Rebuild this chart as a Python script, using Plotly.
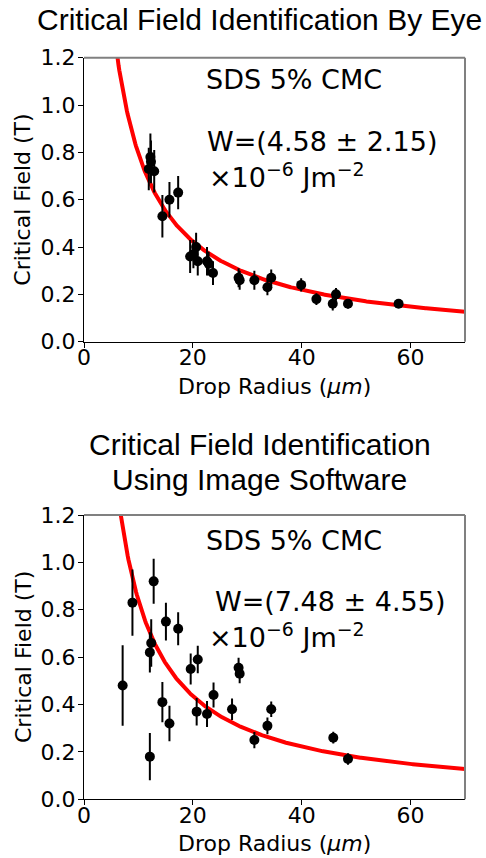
import numpy as np
import plotly.graph_objects as go

# ---- measured critical fields: identification by eye ----
radius_eye = [11.9, 12.2, 12.3, 12.9, 14.4, 15.7, 17.3, 19.5, 20.1, 20.6, 20.9,
              22.6, 22.9, 23.7, 28.4, 28.6, 31.3, 33.7, 34.4, 39.9, 42.7, 45.7,
              46.3, 48.5, 57.8]
field_eye = [0.73, 0.78, 0.76, 0.72, 0.53, 0.60, 0.63, 0.36, 0.37, 0.40, 0.34,
             0.34, 0.33, 0.29, 0.27, 0.26, 0.26, 0.23, 0.27, 0.24, 0.18, 0.16,
             0.20, 0.16, 0.16]
err_eye = [0.09, 0.10, 0.09, 0.09, 0.09, 0.075, 0.07, 0.07, 0.06, 0.06, 0.06,
           0.06, 0.05, 0.05, 0.04, 0.04, 0.04, 0.034, 0.035, 0.028, 0.025, 0.028,
           0.027, 0.02, 0.017]

# ---- measured critical fields: image software ----
radius_sw = [7.1, 8.9, 12.1, 12.1, 12.35, 12.8, 14.4, 15.05, 15.7, 17.3, 19.6,
             20.7, 20.9, 22.6, 23.8, 27.2, 28.4, 28.6, 31.3, 33.7, 34.4, 45.8, 48.5]
field_sw = [0.48, 0.83, 0.18, 0.62, 0.66, 0.92, 0.41, 0.75, 0.32, 0.72, 0.55,
            0.37, 0.59, 0.36, 0.44, 0.38, 0.555, 0.53, 0.25, 0.31, 0.38, 0.26, 0.17]
err_sw = [0.17, 0.14, 0.10, 0.085, 0.10, 0.095, 0.085, 0.08, 0.075, 0.07, 0.065,
          0.058, 0.058, 0.055, 0.053, 0.045, 0.042, 0.04, 0.034, 0.035, 0.033,
          0.025, 0.024]

# fit model B = K / (r + r0)
fit_eye = (9.07, 1.42)
fit_sw = (9.06, 0.79)

x_ticks = [0, 20, 40, 60]
y_ticks = [0.0, 0.2, 0.4, 0.6, 0.8, 1.0, 1.2]

W, H = 486, 858


def px(x):
    return x / W


def py(y):
    return 1 - y / H


r_fit = np.linspace(0.5, 70, 500)

fig = go.Figure()

panels = [
    ("x", "y", radius_eye, field_eye, err_eye, fit_eye),
    ("x2", "y2", radius_sw, field_sw, err_sw, fit_sw),
]
for xa, ya, r, b, e, (k, r0) in panels:
    fig.add_trace(go.Scatter(
        x=r_fit, y=k / (r_fit + r0), mode="lines",
        line=dict(color="#ff0000", width=4),
        xaxis=xa, yaxis=ya, showlegend=False, hoverinfo="skip"))
    fig.add_trace(go.Scatter(
        x=r, y=b, mode="markers",
        marker=dict(color="black", size=10),
        error_y=dict(type="data", array=e, color="black", thickness=2, width=0),
        xaxis=xa, yaxis=ya, showlegend=False))

tick_font = dict(family="DejaVu Sans", size=22, color="black")
axis_common = dict(
    showgrid=False, zeroline=False, showline=True, linecolor="black",
    linewidth=1, ticks="outside", ticklen=5, tickwidth=1, tickcolor="black",
    tickfont=tick_font, mirror=False, automargin=False)

fig.update_layout(
    width=W, height=H,
    margin=dict(l=0, r=0, t=0, b=0, pad=0),
    paper_bgcolor="white", plot_bgcolor="white",
    xaxis=dict(domain=[px(84), px(465)], range=[0, 70], tickvals=x_ticks,
               anchor="y", ticklabelstandoff=-9, **axis_common),
    yaxis=dict(domain=[py(341.7), py(57.7)], range=[0, 1.2], tickvals=y_ticks,
               tickformat=".1f", anchor="x", ticklabelstandoff=-2, **axis_common),
    xaxis2=dict(domain=[px(84), px(465)], range=[0, 70], tickvals=x_ticks,
                anchor="y2", ticklabelstandoff=-9, **axis_common),
    yaxis2=dict(domain=[py(799.3), py(515)], range=[0, 1.2], tickvals=y_ticks,
                tickformat=".1f", anchor="x2", ticklabelstandoff=-2, **axis_common),
)

# grey top and right frame edges
for xd, yd in [("x domain", "y domain"), ("x2 domain", "y2 domain")]:
    fig.add_shape(type="line", xref=xd, yref=yd, x0=0, x1=1, y0=1, y1=1,
                  line=dict(color="#808080", width=2))
    fig.add_shape(type="line", xref=xd, yref=yd, x0=1, x1=1, y0=0, y1=1,
                  line=dict(color="#808080", width=2))

title_font = dict(family="Liberation Sans, Arial", size=30, color="black")
label_font = dict(family="DejaVu Sans", size=22, color="black")
note_font = dict(family="DejaVu Sans", size=27, color="black")


def note(text, x, y, font, xanchor="center", yanchor="middle", angle=0):
    fig.add_annotation(text=text, x=px(x), y=py(y), xref="paper", yref="paper",
                       showarrow=False, font=font, xanchor=xanchor,
                       yanchor=yanchor, textangle=angle)


# titles
note("Critical Field Identification By Eye", 259, 19.5, title_font)
note("Critical Field Identification", 259.5, 444, title_font)
note("Using Image Software", 259, 479, title_font)

# axis titles
note("Critical Field (T)", 23, 199.7, label_font, angle=-90)
note("Critical Field (T)", 23, 657, label_font, angle=-90)
note("Drop Radius (<i>μm</i>)", 274.5, 386, label_font)
note("Drop Radius (<i>μm</i>)", 274.5, 843.5, label_font)

# in-panel labels
note("SDS 5% CMC", 294, 80, note_font)
note("SDS 5% CMC", 294, 540, note_font)
note("W=(4.58 ± 2.15)", 205, 141.5, note_font, xanchor="left")
note("×10<sup>−6</sup> Jm<sup>−2</sup>", 207, 175, note_font, xanchor="left")
note("W=(7.48 ± 4.55)", 213, 601, note_font, xanchor="left")
note("×10<sup>−6</sup> Jm<sup>−2</sup>", 207, 635, note_font, xanchor="left")

fig.write_html("out.html")
